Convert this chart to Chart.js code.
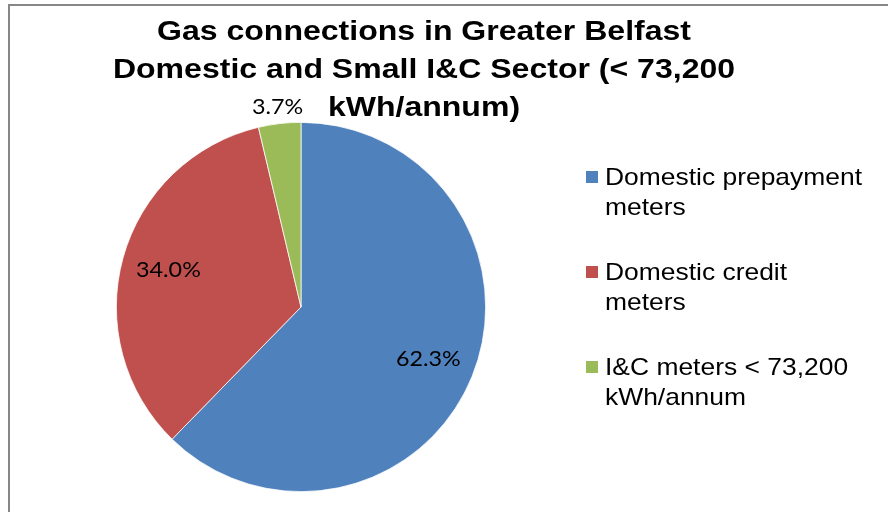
<!DOCTYPE html>
<html>
<head>
<meta charset="utf-8">
<title>Gas connections in Greater Belfast</title>
<script src="https://cdn.jsdelivr.net/npm/chart.js@4.4.0/dist/chart.umd.min.js"></script>
<style>
	body { margin: 0; background: #fff; }
	#wrap { position: relative; width: 888px; height: 512px; overflow: hidden; }
	#frame { position: absolute; left: 8px; top: 4px; width: 1000px; height: 1000px;
		border-left: 2px solid #878787; border-top: 2px solid #878787; pointer-events: none; }
	canvas { position: absolute; left: 0; top: 0; }
</style>
</head>
<body>
<div id="wrap">
	<canvas id="myChart" width="888" height="512"></canvas>
	<div id="frame"></div>
</div>
<script>
var titleLines = ['Gas connections in Greater Belfast', 'Domestic and Small I&C Sector (< 73,200', 'kWh/annum)'];
var categories = [['Domestic prepayment', 'meters'], ['Domestic credit', 'meters'], ['I&C meters < 73,200', 'kWh/annum']];
var shares = [62.3, 34.0, 3.7];
var colors = ['#4F81BD', '#C0504D', '#9BBB59'];

// the original text is a bit wider than Arial, so stretch it sideways
function wideText(ctx, text, x, y, sx) {
	ctx.save();
	ctx.translate(x, y);
	ctx.scale(sx, 1);
	ctx.fillText(text, 0, 0);
	ctx.restore();
}

// percentage labels, the small slice gets its label outside the pie
var sliceLabels = {
	id: 'sliceLabels',
	afterDatasetsDraw: function(chart) {
		var ctx = chart.ctx;
		var meta = chart.getDatasetMeta(0);
		ctx.save();
		ctx.font = '22px Lato';
		ctx.fillStyle = '#000';
		ctx.textAlign = 'center';
		ctx.textBaseline = 'middle';
		meta.data.forEach(function(arc, i) {
			var p = arc.getProps(['x', 'y', 'startAngle', 'endAngle', 'outerRadius'], true);
			var mid = (p.startAngle + p.endAngle) / 2;
			var dist = shares[i] < 10 ? p.outerRadius + 17 : p.outerRadius * 0.745;
			wideText(ctx, shares[i].toFixed(1) + '%', p.x + Math.cos(mid) * dist, p.y + Math.sin(mid) * dist, 1.06);
		});
		ctx.restore();
	}
};

// excel style title, wrapped by hand
var titleBlock = {
	id: 'titleBlock',
	afterDraw: function(chart) {
		var ctx = chart.ctx;
		ctx.save();
		ctx.font = 'bold 28px "Liberation Sans"';
		ctx.fillStyle = '#000';
		ctx.textAlign = 'center';
		ctx.textBaseline = 'alphabetic';
		var sx = 534 / ctx.measureText(titleLines[0]).width;
		titleLines.forEach(function(line, i) {
			wideText(ctx, line, 424, 40 + i * 38, sx);
		});
		ctx.restore();
	}
};

// legend on the right with wrapped labels
var sideLegend = {
	id: 'sideLegend',
	afterDraw: function(chart) {
		var ctx = chart.ctx;
		ctx.save();
		ctx.font = '24px "Liberation Sans"';
		ctx.textBaseline = 'alphabetic';
		ctx.textAlign = 'left';
		var sx = 257 / ctx.measureText(categories[0][0]).width;
		chart.data.labels.forEach(function(lines, i) {
			var base = 185 + i * 95;
			ctx.fillStyle = colors[i];
			ctx.fillRect(586, base - 14, 12, 12);
			ctx.fillStyle = '#000';
			lines.forEach(function(t, j) {
				wideText(ctx, t, 605, base + j * 30, sx);
			});
		});
		ctx.restore();
	}
};

var ctx = document.getElementById('myChart').getContext('2d');
var myPie = new Chart(ctx, {
	type: 'pie',
	data: {
		labels: categories,
		datasets: [
			{
				data: shares,
				backgroundColor: colors,
				borderColor: '#ffffff',
				borderWidth: 0.75
			}
		]
	},
	options: {
		responsive: false,
		animation: false,
		layout: { padding: { left: 116, right: 402, top: 122, bottom: 20 } },
		plugins: {
			legend: { display: false },
			title: { display: false },
			tooltip: { enabled: false }
		}
	},
	plugins: [sliceLabels, titleBlock, sideLegend]
});
</script>
</body>
</html>
